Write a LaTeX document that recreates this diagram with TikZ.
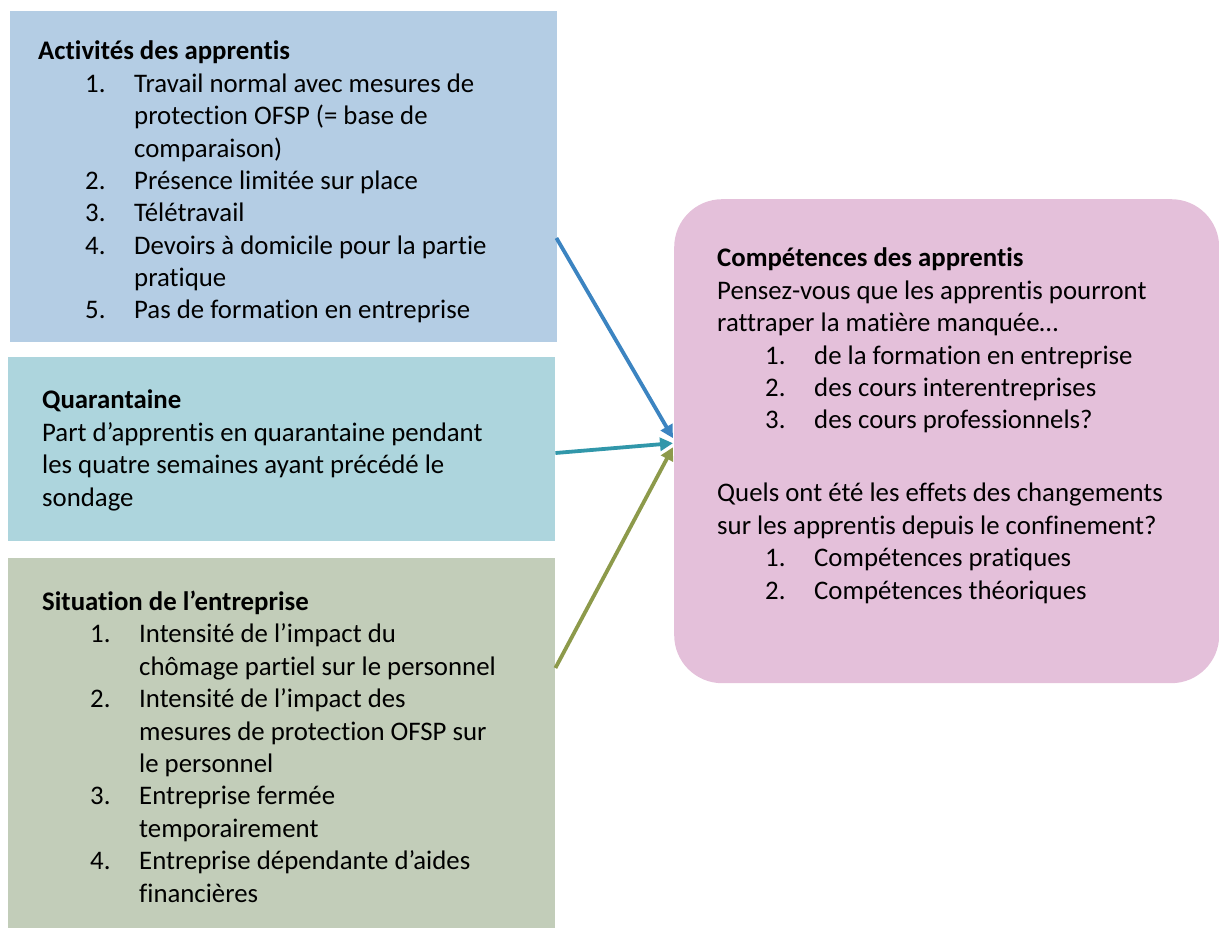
\documentclass[tikz,border=0pt]{standalone}
\usepackage{fontspec}
\setmainfont{Carlito}[Ligatures=NoCommon]
\usetikzlibrary{arrows.meta,calc}

\definecolor{actfill}{RGB}{180,205,228}
\definecolor{quafill}{RGB}{173,213,221}
\definecolor{sitfill}{RGB}{194,205,185}
\definecolor{comfill}{RGB}{228,192,218}
\definecolor{actline}{RGB}{60,132,193}
\definecolor{qualine}{RGB}{49,151,170}
\definecolor{sitline}{RGB}{141,154,75}

\newcommand{\itm}[2][47pt]{\hspace*{#1}\makebox[49pt][l]{#2}}
\newcommand{\cont}[1][47pt]{\hspace*{#1}\hspace*{49pt}}

\tikzset{
  box/.style={rectangle, inner sep=0pt, anchor=north west},
  txt/.style={anchor=base west, inner sep=0pt, align=left,
    font=\fontsize{26.8}{32.4}\selectfont},
  link/.style={line width=3.8pt, -{Triangle[length=13pt,width=13pt]}}
}

\begin{document}
\begin{tikzpicture}[x=1pt,y=-1pt]
  \useasboundingbox (0,0) rectangle (1219,928);

  % Boxes
  \node[box, fill=actfill, minimum width=547pt, minimum height=331pt] (act) at (10,11) {};
  \node[box, fill=quafill, minimum width=547pt, minimum height=184pt] (qua) at (8,357) {};
  \node[box, fill=sitfill, minimum width=547pt, minimum height=370pt] (sit) at (8,558) {};
  \node[box, fill=comfill, minimum width=545pt, minimum height=484pt, rounded corners=48pt] (com) at (674,199) {};

  % Texts (placed by the baseline of their last line)
  \node[txt] (acttxt) at (38,319) {\textbf{Activités des apprentis}\\
    \itm{1.}Travail normal avec mesures de\\
    \cont protection OFSP (= base de\\
    \cont comparaison)\\
    \itm{2.}Présence limitée sur place\\
    \itm{3.}Télétravail\\
    \itm{4.}Devoirs à domicile pour la partie\\
    \cont pratique\\
    \itm{5.}Pas de formation en entreprise};

  \node[txt] (quatxt) at (42,506) {\textbf{Quarantaine}\\
    Part d’apprentis en quarantaine pendant\\
    les quatre semaines ayant précédé le\\
    sondage};

  \node[txt] (sittxt) at (42,902) {\textbf{Situation de l’entreprise}\\
    \itm[48pt]{1.}Intensité de l’impact du\\
    \cont[48pt]chômage partiel sur le personnel\\
    \itm[48pt]{2.}Intensité de l’impact des\\
    \cont[48pt]mesures de protection OFSP sur\\
    \cont[48pt]le personnel\\
    \itm[48pt]{3.}Entreprise fermée\\
    \cont[48pt]temporairement\\
    \itm[48pt]{4.}Entreprise dépendante d’aides\\
    \cont[48pt]financières};

  \node[txt] (comtxt) at (717,599) {\textbf{Compétences des apprentis}\\
    Pensez-vous que les apprentis pourront\\
    rattraper la matière manquée…\\
    \itm[48pt]{1.}de la formation en entreprise\\
    \itm[48pt]{2.}des cours interentreprises\\
    \itm[48pt]{3.}des cours professionnels?\\[40.6pt]
    Quels ont été les effets des changements\\
    sur les apprentis depuis le confinement?\\
    \itm[48pt]{1.}Compétences pratiques\\
    \itm[48pt]{2.}Compétences théoriques};

  % Connectors
  \coordinate (actout) at ($(act.north east)+(-1,227)$);
  \coordinate (quaout) at ($(qua.north east)+(0,96)$);
  \coordinate (sitout) at ($(sit.north east)+(0,110)$);
  \coordinate (actin) at ($(com.west)+(-1,-3)$);
  \coordinate (quain) at ($(com.west)+(-1,2)$);
  \coordinate (sitin) at ($(com.west)+(-1,6)$);

  \draw[link, actline] (actout) -- (actin);
  \draw[link, qualine] (quaout) -- (quain);
  \draw[link, sitline] (sitout) -- (sitin);
\end{tikzpicture}
\end{document}
